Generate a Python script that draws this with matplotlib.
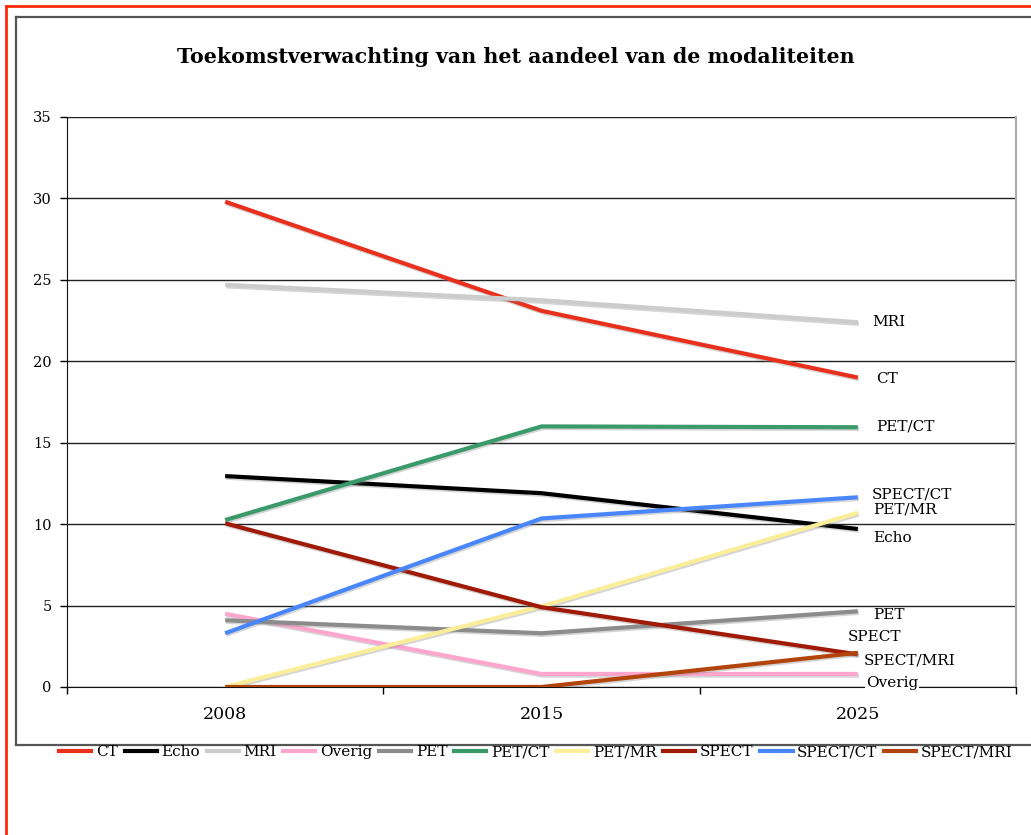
import matplotlib.pyplot as plt
import matplotlib.patheffects as pe
from matplotlib.lines import Line2D

years = ['2008', '2015', '2025']
modaliteiten = ['CT', 'Echo', 'MRI', 'Overig', 'PET', 'PET/CT', 'PET/MR', 'SPECT', 'SPECT/CT', 'SPECT/MRI']

ct = [29.8, 23.1, 19.0]
echo = [12.95, 11.9, 9.7]
mri = [24.7, 23.75, 22.4]
overig = [4.5, 0.8, 0.8]
pet = [4.1, 3.3, 4.65]
pet_ct = [10.25, 16.0, 15.95]
pet_mr = [0.0, 4.95, 10.7]
spect = [10.05, 4.9, 2.0]
spect_ct = [3.3, 10.35, 11.65]
spect_mri = [0.0, 0.0, 2.1]
series = [ct, echo, mri, overig, pet, pet_ct, pet_mr, spect, spect_ct, spect_mri]

colors = ['#e8301c', '#000000', '#cccccc', '#ffa6cf', '#8c8c8c',
          '#3a9a6a', '#fbee9b', '#a01a08', '#4a86fb', '#b2440c']

# where the end labels sit (x in category units, y in data units)
label_x = [2.057, 2.05, 2.047, 2.025, 2.05, 2.057, 2.05, 1.968, 2.044, 2.019]
label_y = [18.9, 9.15, 22.4, 0.25, 4.4, 16.0, 10.9, 3.05, 11.8, 1.6]

plt.rcParams['font.family'] = ['DejaVu Serif']

fig = plt.figure(figsize=(10.31, 8.35), dpi=100)
ax = fig.add_axes([67/1031, 1-687/835, (1016-67)/1031, (687-117)/835])

# outer frame lines (page border + chart box)
W, H = 1031, 835
def fl(xs, ys, c, lw):
    fig.add_artist(Line2D([x/W for x in xs], [1-y/H for y in ys], color=c, lw=lw,
                          transform=fig.transFigure))
fl([6, 6], [6, 835], '#ff2a0a', 2)
fl([6, 1031], [6, 6], '#ff2a0a', 2)
fl([16, 1031], [17, 17], '#555555', 1.6)
fl([16, 16], [17, 745], '#555555', 1.6)
fl([16, 1031], [745, 745], '#555555', 1.6)

x = list(range(len(years)))
shadow = [pe.SimpleLineShadow(offset=(0.8, -1.2), shadow_color='#888888', alpha=0.35), pe.Normal()]
for name, vals, c in zip(modaliteiten, series, colors):
    ax.plot(x, vals, color=c, lw=3, label=name, path_effects=shadow, solid_capstyle='butt', zorder=3)

for name, lx, ly in zip(modaliteiten, label_x, label_y):
    ax.text(lx, ly, name, fontsize=11, va='center', ha='left', zorder=4,
            bbox=dict(facecolor='white', edgecolor='none', pad=0.5))

ax.set_xlim(-0.5, 2.5)
ax.set_ylim(0, 35)
ax.set_yticks(range(0, 36, 5))
ax.yaxis.grid(True, color='#222222', lw=1)
ax.set_axisbelow(True)
ax.set_xticks([-0.5, 0.5, 1.5, 2.5])
ax.set_xticklabels([])
ax.set_xticks(x, minor=True)
ax.set_xticklabels(years, minor=True, fontsize=12.5)
ax.tick_params(axis='x', which='minor', length=0, pad=14)
ax.tick_params(axis='x', which='major', length=5, width=1, direction='out')
ax.tick_params(axis='y', length=5, width=1, labelsize=10.5, pad=6)
for s in ['left', 'bottom']:
    ax.spines[s].set_color('#111111')
ax.spines['top'].set_visible(False)
ax.spines['right'].set_color('#aaaaaa')
ax.spines['right'].set_linewidth(1.5)

fig.text(0.5, 1-57/835, 'Toekomstverwachting van het aandeel van de modaliteiten',
         ha='center', va='center', fontsize=14.8, fontweight='bold')

handles = [Line2D([], [], color=c, lw=3) for c in colors]
fig.legend(handles, modaliteiten, loc='center', bbox_to_anchor=(536/1031, 1-752/835),
           ncol=10, frameon=False, fontsize=11, handlelength=2.1, handletextpad=0.3,
           columnspacing=0.45)

fig.savefig('out.png', dpi=100)
